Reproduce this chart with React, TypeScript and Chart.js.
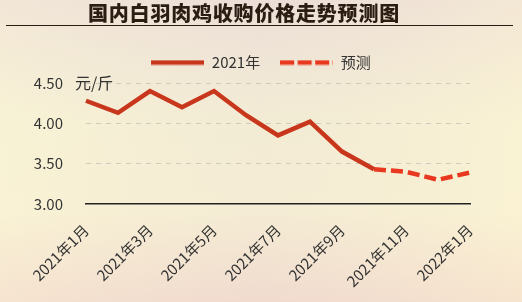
import React, { useEffect, useRef } from "react";
import { Chart, registerables } from "chart.js";

Chart.register(...registerables);

const categories = [
  "2021年1月", "2021年2月", "2021年3月", "2021年4月", "2021年5月", "2021年6月",
  "2021年7月", "2021年8月", "2021年9月", "2021年10月", "2021年11月", "2021年12月", "2022年1月",
];
const actual2021 = [4.28, 4.13, 4.4, 4.2, 4.4, 4.1, 3.85, 4.02, 3.65, 3.43, null, null, null];
const forecast = [null, null, null, null, null, null, null, null, null, 3.43, 3.4, 3.3, 3.39];
const yTicks = [3.0, 3.5, 4.0, 4.5];
const seriesNames = ["2021年", "预测"];
const titleText = "国内白羽肉鸡收购价格走势预测图";
const unitText = "元/斤";

const FONT = "'Noto Sans CJK SC', 'Noto Sans', sans-serif";
const SOLID = "#c8361c";
const DASHED = "#e8381f";

function lineImage(color: string, dash: number[]) {
  const c = document.createElement("canvas");
  c.width = 53;
  c.height = 6;
  const x = c.getContext("2d")!;
  x.strokeStyle = color;
  x.lineWidth = 4.5;
  x.setLineDash(dash);
  x.beginPath();
  x.moveTo(0, 3);
  x.lineTo(53, 3);
  x.stroke();
  return c;
}

const decorPlugin = {
  id: "decor",
  beforeDraw(chart: any) {
    const { ctx, width, height } = chart;
    ctx.save();
    const g = ctx.createLinearGradient(0, 0, 0, height);
    g.addColorStop(0, "#eedfd7");
    g.addColorStop(0.4, "#f7f1d4");
    g.addColorStop(0.7, "#f9f1d3");
    g.addColorStop(1, "#f4dacc");
    ctx.fillStyle = g;
    ctx.fillRect(0, 0, width, height);
    const g2 = ctx.createLinearGradient(0, 0, width, 0);
    g2.addColorStop(0, "rgba(250,245,215,0.35)");
    g2.addColorStop(0.5, "rgba(230,220,215,0.25)");
    g2.addColorStop(1, "rgba(252,244,210,0.4)");
    ctx.fillStyle = g2;
    ctx.fillRect(0, 0, width, height);
    // title, drawn glyph by glyph on a fixed pitch
    ctx.fillStyle = "#2b1d12";
    ctx.font = `900 20px ${FONT}`;
    ctx.textAlign = "left";
    ctx.textBaseline = "middle";
    const chars = Array.from(titleText);
    chars.forEach((ch, i) => ctx.fillText(ch, 88 + i * 20.8, 13));
    ctx.strokeStyle = "#2b1d12";
    ctx.lineWidth = 1.2;
    ctx.beginPath();
    ctx.moveTo(6, 25.5);
    ctx.lineTo(513, 25.5);
    ctx.stroke();
    ctx.restore();
  },
  afterDraw(chart: any) {
    const { ctx } = chart;
    const y = chart.scales.y.getPixelForValue(4.5);
    ctx.save();
    ctx.fillStyle = "#333";
    ctx.font = `16px ${FONT}`;
    ctx.textAlign = "left";
    ctx.textBaseline = "middle";
    ctx.fillText(unitText, 75, y);
    ctx.restore();
  },
};

export default function App() {
  const ref = useRef<HTMLCanvasElement>(null);
  useEffect(() => {
    document.body.style.margin = "0";
    const chart = new Chart(ref.current!, {
      type: "line",
      data: {
        labels: categories,
        datasets: [
          {
            label: seriesNames[0],
            data: actual2021,
            borderColor: SOLID,
            backgroundColor: SOLID,
            borderWidth: 4.5,
            pointRadius: 0,
            pointStyle: lineImage(SOLID, []) as any,
            tension: 0,
          },
          {
            label: seriesNames[1],
            data: forecast,
            borderColor: DASHED,
            backgroundColor: DASHED,
            borderWidth: 4.5,
            borderDash: [12, 5],
            pointRadius: 0,
            pointStyle: lineImage(DASHED, [14, 3.5]) as any,
            tension: 0,
          },
        ],
      },
      options: {
        animation: false,
        responsive: false,
        devicePixelRatio: 1,
        layout: { padding: { top: 35, left: 0, right: 0, bottom: 0 } },
        plugins: {
          tooltip: { enabled: false },
          legend: {
            position: "top",
            labels: {
              usePointStyle: true,
              pointStyleWidth: 53,
              padding: 20,
              color: "#333",
              font: { family: FONT, size: 15 },
            },
          },
        },
        scales: {
          x: {
            grid: { display: false },
            border: { display: true, color: "#222", width: 1.5 },
            ticks: {
              autoSkip: false,
              minRotation: 45,
              maxRotation: 45,
              padding: 9,
              color: "#333",
              font: { family: FONT, size: 15 },
              callback: (_v: any, i: number) => (i % 2 === 0 ? categories[i] : ""),
            },
            afterFit: (s: any) => { s.height = 98; },
          },
          xTopSpacer: {
            type: "category",
            position: "top",
            display: true,
            grid: { display: false },
            border: { display: false },
            ticks: { display: false },
            afterFit: (s: any) => { s.height = 3; },
          },
          y: {
            min: 3,
            max: 4.5,
            border: { display: false, dash: [5, 5] },
            grid: {
              drawTicks: false,
              color: (c: any) => (c.tick && c.tick.value === 3 ? "rgba(0,0,0,0)" : "#cfcabd"),
              lineWidth: 1,
            },
            afterBuildTicks: (s: any) => { s.ticks = yTicks.map((v) => ({ value: v })); },
            ticks: {
              padding: 23,
              color: "#333",
              font: { family: FONT, size: 15 },
              callback: (v: any) => Number(v).toFixed(2),
            },
            afterFit: (s: any) => { s.width = 86; },
          },
          yRightSpacer: {
            position: "right",
            display: true,
            grid: { display: false },
            border: { display: false },
            ticks: { display: false },
            afterFit: (s: any) => { s.width = 52; },
          },
        },
      },
      plugins: [decorPlugin],
    });
    return () => chart.destroy();
  }, []);
  return <canvas ref={ref} width={522} height={302} style={{ display: "block" }} />;
}
